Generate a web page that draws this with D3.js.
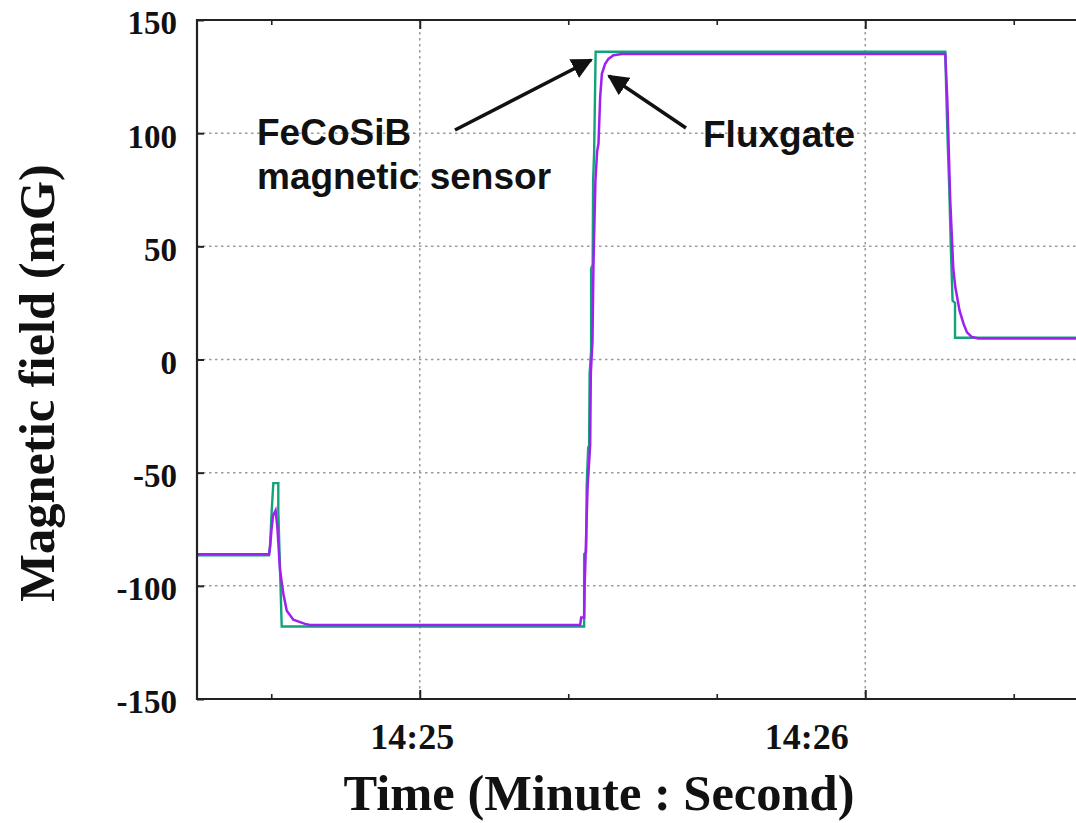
<!DOCTYPE html>
<html>
<head>
<meta charset="utf-8">
<script src="https://cdn.jsdelivr.net/npm/d3@7/dist/d3.min.js"></script>
<style>
  html, body { margin: 0; padding: 0; background: #fff; }
  svg { display: block; }
</style>
</head>
<body>
<svg id="chart" width="1076" height="823"></svg>
<script>
// Time stamps are seconds after 14:24:00
const sensorTime = [30.00, 39.70, 39.84, 40.06, 40.28, 40.95, 40.95, 41.41, 82.14, 82.14, 82.41, 82.48,
  82.68, 82.81, 82.88, 83.08, 83.08, 83.29, 83.35, 83.49, 83.69, 130.78, 130.91, 131.11, 131.32,
  131.52, 131.72, 131.76, 132.09, 132.09, 150.50];
const sensorField = [-86.5, -86.5, -82, -67, -54.6, -54.6, -67, -118, -118, -86, -85, -56,
  -39, -38, -6, 4, 40, 42, 79, 92, 136, 136, 118, 95, 75,
  50, 30, 26, 25, 9.6, 9.6];

const fluxTime = [30.00, 39.70, 39.84, 40.04, 40.24, 40.58, 40.82, 41.18, 41.63, 42.09, 42.97, 44.55,
  45.22, 81.60, 81.74, 82.14, 82.21, 82.34, 82.61, 82.95, 83.04, 83.26, 83.39, 83.66, 83.89, 84.07,
  84.30, 84.53, 84.97, 85.41, 86.09, 87.22, 130.78, 131.05, 131.45, 131.86, 132.13, 132.70, 133.24,
  133.70, 134.38, 135.22, 150.50];
const fluxField = [-86, -86, -83, -75, -69, -66.7, -74, -93, -103.5, -111, -115, -116.8,
  -117.3, -117.3, -114, -114, -100, -86, -56, -38, -6, 8, 41, 79, 92, 95.3,
  115.9, 126.2, 130.6, 132.8, 134.4, 135, 135, 115, 70, 40, 32, 21.6, 15.8,
  12, 9.9, 9.3, 9.3];

const yTicks = [-150, -100, -50, 0, 50, 100, 150];
const yGrid = [-100, -50, 0, 50, 100];
const xTickLabels = ["14:25", "14:26"];

const base = new Date(2000, 0, 1, 14, 24, 0);
const toDate = s => new Date(base.getTime() + s * 1000);

const svg = d3.select("#chart");
const plotL = 197, plotR = 1088, plotT = 20, plotB = 699;
// horizontal nudge of each minute label relative to its tick
const xLabelNudge = [-8, -59];

const x = d3.scaleTime()
  .domain([toDate(30), toDate(150)])
  .range([plotL, plotR]);
const y = d3.scaleLinear().domain([-150, 150]).range([plotB, plotT]);

const serif = "'Liberation Serif', 'Times New Roman', serif";
const sans = "'Liberation Sans', Arial, sans-serif";

const defs = svg.append("defs");
defs.append("clipPath").attr("id", "plotClip")
  .append("rect").attr("x", plotL).attr("y", plotT).attr("width", plotR - plotL).attr("height", plotB - plotT);

// grid
const grid = svg.append("g").attr("stroke", "#9a9a9a").attr("stroke-width", 1.5)
  .attr("stroke-dasharray", "2.5,3.5");
grid.selectAll("line.h").data(yGrid).join("line").attr("class", "h")
  .attr("x1", plotL).attr("x2", plotR).attr("y1", d => y(d)).attr("y2", d => y(d));
const majorTimes = xTickLabels.map(l => { const [h, m] = l.split(":").map(Number); return new Date(2000, 0, 1, h, m, 0); });
grid.selectAll("line.v").data(majorTimes).join("line").attr("class", "v")
  .attr("y1", plotT).attr("y2", plotB).attr("x1", d => x(d)).attr("x2", d => x(d));

// data
const plot = svg.append("g").attr("clip-path", "url(#plotClip)");
const line = d3.line().x(d => x(toDate(d[0]))).y(d => y(d[1]));
plot.append("path")
  .datum(d3.zip(sensorTime, sensorField))
  .attr("d", line).attr("fill", "none").attr("stroke", "#12a37a").attr("stroke-width", 2.4);
plot.append("path")
  .datum(d3.zip(fluxTime, fluxField))
  .attr("d", line).attr("fill", "none").attr("stroke", "#a020f0").attr("stroke-width", 2.5);

// frame
svg.append("path").attr("d", `M${plotR},${plotT}H${plotL}V${plotB}H${plotR}`)
  .attr("stroke", "#222").attr("stroke-width", 2.2).attr("fill", "none");

// y ticks
const yAxis = d3.axisLeft(y).tickValues(yTicks).tickSize(-7).tickPadding(20)
  .tickFormat(d => String(d));
const gy = svg.append("g").attr("transform", `translate(${plotL},0)`).call(yAxis);
gy.select(".domain").remove();
gy.selectAll(".tick line").attr("stroke", "#222").attr("stroke-width", 2);
gy.selectAll(".tick text").attr("font-family", serif).attr("font-weight", "bold")
  .attr("font-size", 33).attr("fill", "#111").attr("dy", "0.42em");

// x ticks: minutes labelled, 20 s minor
const minorTimes = d3.timeSecond.every(20).range(toDate(30), toDate(151))
  .filter(d => d.getSeconds() !== 0);
const xAxis = d3.axisBottom(x).tickValues(majorTimes).tickSize(-9).tickPadding(24)
  .tickFormat(d3.timeFormat("%H:%M"));
const gx = svg.append("g").attr("transform", `translate(0,${plotB})`).call(xAxis);
gx.select(".domain").remove();
gx.selectAll(".tick line").attr("stroke", "#222").attr("stroke-width", 2);
gx.selectAll(".tick text").attr("font-family", serif).attr("font-weight", "bold")
  .attr("font-size", 36).attr("fill", "#111")
  .attr("dx", (d, i) => xLabelNudge[i]);

const gxm = svg.append("g").attr("transform", `translate(0,${plotB})`)
  .call(d3.axisBottom(x).tickValues(minorTimes).tickSize(-5).tickFormat(""));
gxm.select(".domain").remove();
gxm.selectAll(".tick line").attr("stroke", "#222").attr("stroke-width", 1.6);

const gxt = svg.append("g").attr("transform", `translate(0,${plotT})`)
  .call(d3.axisTop(x).tickValues(majorTimes).tickSize(-9).tickFormat(""));
gxt.select(".domain").remove();
gxt.selectAll(".tick line").attr("stroke", "#222").attr("stroke-width", 2);
const gxtm = svg.append("g").attr("transform", `translate(0,${plotT})`)
  .call(d3.axisTop(x).tickValues(minorTimes).tickSize(-5).tickFormat(""));
gxtm.select(".domain").remove();
gxtm.selectAll(".tick line").attr("stroke", "#222").attr("stroke-width", 1.6);

// axis titles
svg.append("text").attr("x", 599).attr("y", 810).attr("text-anchor", "middle")
  .attr("font-family", serif).attr("font-weight", "bold").attr("font-size", 50.5).attr("fill", "#111")
  .text("Time (Minute : Second)");
svg.append("text").attr("transform", "translate(54,383) rotate(-90)").attr("text-anchor", "middle")
  .attr("font-family", serif).attr("font-weight", "bold").attr("font-size", 50.5).attr("fill", "#111")
  .text("Magnetic field (mG)");

// annotations with arrows
defs.append("marker").attr("id", "arrow").attr("viewBox", "0 0 10 10").attr("refX", 9).attr("refY", 5)
  .attr("markerWidth", 6).attr("markerHeight", 6).attr("markerUnits", "strokeWidth").attr("orient", "auto")
  .append("path").attr("d", "M0,0L10,5L0,10z").attr("fill", "#111");

svg.append("line").attr("x1", 455).attr("y1", 130).attr("x2", 591).attr("y2", 60)
  .attr("stroke", "#111").attr("stroke-width", 3.5).attr("marker-end", "url(#arrow)");
svg.append("line").attr("x1", 686).attr("y1", 128).attr("x2", 609).attr("y2", 76)
  .attr("stroke", "#111").attr("stroke-width", 3.5).attr("marker-end", "url(#arrow)");

const ann = svg.append("g").attr("font-family", sans).attr("font-weight", "bold")
  .attr("font-size", 37).attr("fill", "#111");
ann.append("text").attr("x", 257).attr("y", 145).text("FeCoSiB");
ann.append("text").attr("x", 257).attr("y", 189).text("magnetic sensor");
ann.append("text").attr("x", 703).attr("y", 147).text("Fluxgate");
</script>
</body>
</html>
